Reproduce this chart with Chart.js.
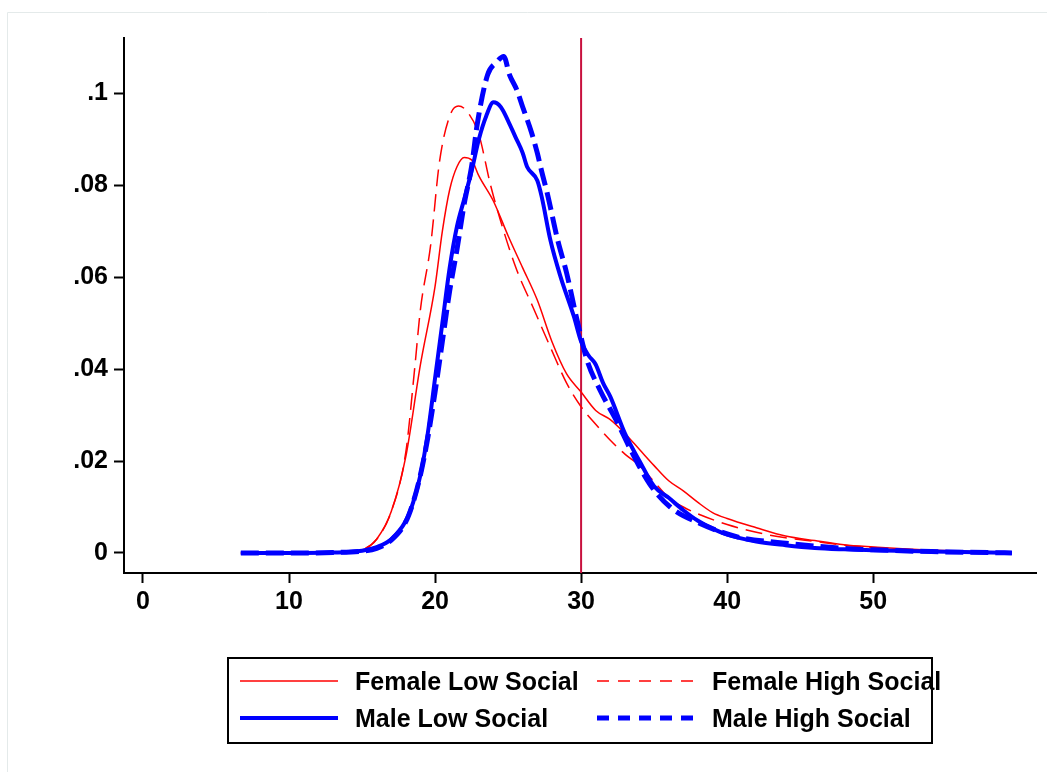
<!DOCTYPE html>
<html>
<head>
<meta charset="utf-8">
<script src="https://cdn.jsdelivr.net/npm/chart.js@4"></script>
<style>
  html, body { margin: 0; padding: 0; background: #fff; }
  #wrap { position: relative; width: 1047px; height: 772px; }
</style>
</head>
<body>
<div id="wrap"><canvas id="chart" width="1047" height="772"></canvas></div>
<script>
// tick values and labels
const xTicks = [0, 10, 20, 30, 40, 50];
const xTickLabels = ["0", "10", "20", "30", "40", "50"];
const yTicks = [0, 0.02, 0.04, 0.06, 0.08, 0.1];
const yTickLabels = ["0", ".02", ".04", ".06", ".08", ".1"];
const cutoff = 30;

const seriesNames = ["Female Low Social", "Female High Social", "Male Low Social", "Male High Social"];

// Female Low Social (red solid)
const femaleLowX = [6.7, 10, 14, 15, 16, 17, 18, 19, 20, 20.5, 21, 21.5, 22, 22.5, 23, 24, 25, 26, 27, 28, 29, 30, 31, 32, 33, 34, 35, 36, 37, 38, 39, 40, 42, 44, 46, 48, 50, 52, 54, 56, 58, 59.5];
const femaleLowY = [0, 0, 0.0002, 0.0006, 0.003, 0.009, 0.021, 0.041, 0.058, 0.07, 0.079, 0.084, 0.086, 0.0855, 0.082, 0.0765, 0.069, 0.062, 0.055, 0.046, 0.039, 0.035, 0.031, 0.029, 0.026, 0.0225, 0.019, 0.0157, 0.0135, 0.011, 0.0088, 0.0075, 0.0055, 0.0037, 0.0027, 0.0018, 0.0013, 0.0009, 0.0006, 0.0004, 0.0002, 0];

// Female High Social (red dashed)
const femaleHighX = [6.7, 10, 14, 15, 16, 17, 18, 18.6, 19, 19.7, 20.3, 21, 21.6, 22.2, 23, 23.8, 24.7, 25.6, 26.7, 28, 29, 30, 31, 32, 33, 34, 35, 36, 37, 38, 40, 42, 44, 46, 48, 50, 52, 54, 56, 58, 59.5];
const femaleHighY = [0, 0, 0.0002, 0.0007, 0.003, 0.009, 0.022, 0.04, 0.053, 0.067, 0.085, 0.095, 0.0972, 0.096, 0.091, 0.08, 0.07, 0.0615, 0.0535, 0.044, 0.037, 0.0318, 0.028, 0.0245, 0.0215, 0.019, 0.0155, 0.012, 0.01, 0.0085, 0.0062, 0.0045, 0.0033, 0.0025, 0.0017, 0.0012, 0.0008, 0.0005, 0.0003, 0.0001, 0];

// Male Low Social (blue solid)
const maleLowX = [6.7, 10, 13, 15, 16, 17, 18, 18.5, 19, 19.5, 20, 20.5, 21, 21.5, 22, 22.5, 23, 23.5, 24, 24.5, 25, 25.5, 26, 26.3, 27, 27.3, 27.9, 28.6, 29.5, 30, 30.5, 31, 31.5, 32, 33, 34, 35, 36, 37, 38, 39, 40, 42, 44, 46, 48, 50, 54, 58, 59.5];
const maleLowY = [0, 0, 0.0001, 0.0005, 0.0013, 0.003, 0.007, 0.011, 0.017, 0.026, 0.038, 0.05, 0.062, 0.071, 0.077, 0.083, 0.09, 0.095, 0.098, 0.097, 0.094, 0.0905, 0.087, 0.084, 0.081, 0.0775, 0.068, 0.06, 0.0515, 0.046, 0.043, 0.041, 0.037, 0.034, 0.026, 0.02, 0.0145, 0.012, 0.0093, 0.007, 0.0053, 0.004, 0.0025, 0.0017, 0.0011, 0.0008, 0.0006, 0.0003, 0.0001, 0];

// Male High Social (blue dashed)
const maleHighX = [6.7, 10, 13, 15, 16, 17, 18, 18.5, 19, 19.5, 20, 20.5, 21, 21.5, 22, 22.5, 22.9, 23.6, 24.2, 24.7, 25.1, 25.6, 26, 26.6, 27, 27.3, 27.7, 28.4, 29, 29.7, 30.4, 31.3, 32.5, 33.4, 34.7, 36.1, 38.1, 40.7, 43.8, 46, 48, 50, 54, 58, 59.5];
const maleHighY = [0, 0, 0.0001, 0.0004, 0.001, 0.0028, 0.0068, 0.011, 0.017, 0.025, 0.035, 0.046, 0.057, 0.066, 0.076, 0.084, 0.0935, 0.104, 0.1067, 0.108, 0.104, 0.1007, 0.097, 0.0915, 0.087, 0.083, 0.078, 0.068, 0.061, 0.051, 0.042, 0.0354, 0.0283, 0.0224, 0.015, 0.01, 0.0065, 0.0035, 0.0022, 0.0015, 0.001, 0.0007, 0.0003, 0.0001, 0];

const xMin = -1.3, xMax = 61.15;
const yMin = -0.00435, yMax = 0.112;

function pts(xs, ys) {
  return xs.map((x, i) => ({ x: x, y: ys[i] }));
}

const fontFamily = '"Liberation Sans", Arial, Helvetica, sans-serif';

// faint page frame
const frame = {
  id: 'frame',
  beforeDraw(chart) {
    const ctx = chart.ctx;
    ctx.save();
    ctx.fillStyle = '#fff';
    ctx.fillRect(0, 0, chart.width, chart.height);
    ctx.strokeStyle = '#e4eaea';
    ctx.lineWidth = 1;
    ctx.beginPath();
    ctx.moveTo(7.5, chart.height);
    ctx.lineTo(7.5, 12.5);
    ctx.lineTo(chart.width, 12.5);
    ctx.stroke();
    ctx.restore();
  }
};

// boxed legend under the plot, two columns
const legendBox = {
  id: 'legendBox',
  afterDraw(chart) {
    const ctx = chart.ctx;
    ctx.save();
    ctx.strokeStyle = '#000';
    ctx.lineWidth = 2;
    ctx.strokeRect(228, 658, 704, 85);
    const items = chart.data.datasets.filter(d => d.label);
    items.forEach((d, i) => {
      const col = i % 2, row = Math.floor(i / 2);
      const x0 = col ? 597 : 240;
      const y = row ? 718 : 681;
      ctx.beginPath();
      ctx.setLineDash(d.legendDash || []);
      ctx.strokeStyle = d.borderColor;
      ctx.lineWidth = d.borderWidth;
      ctx.moveTo(x0, y);
      ctx.lineTo(x0 + 98, y);
      ctx.stroke();
      ctx.setLineDash([]);
      ctx.fillStyle = '#000';
      ctx.font = 'bold 25px ' + fontFamily;
      ctx.textBaseline = 'middle';
      ctx.fillText(d.label, x0 + 115, y + 2);
    });
    ctx.restore();
  }
};

new Chart(document.getElementById('chart'), {
  type: 'line',
  data: {
    datasets: [
      {
        label: seriesNames[0],
        data: pts(femaleLowX, femaleLowY),
        borderColor: '#ff0000',
        borderWidth: 1.5,
        order: 5
      },
      {
        label: seriesNames[1],
        data: pts(femaleHighX, femaleHighY),
        borderColor: '#ff0000',
        borderWidth: 1.5,
        borderDash: [17, 8],
        legendDash: [12, 9],
        order: 4
      },
      {
        label: seriesNames[2],
        data: pts(maleLowX, maleLowY),
        borderColor: '#0000ff',
        borderWidth: 4,
        order: 3
      },
      {
        label: seriesNames[3],
        data: pts(maleHighX, maleHighY),
        borderColor: '#0000ff',
        borderWidth: 5,
        borderDash: [18, 7],
        legendDash: [12, 9],
        order: 2
      },
      {
        data: [{ x: cutoff, y: yMin }, { x: cutoff, y: yMax }],
        borderColor: '#c8103e',
        borderWidth: 2,
        order: 6
      }
    ]
  },
  options: {
    responsive: false,
    animation: false,
    elements: {
      point: { radius: 0 },
      line: { cubicInterpolationMode: 'monotone', fill: false }
    },
    layout: { padding: { top: 38, right: 11, bottom: 139, left: 0 } },
    plugins: {
      legend: { display: false },
      tooltip: { enabled: false }
    },
    scales: {
      x: {
        type: 'linear',
        min: xMin,
        max: xMax,
        afterBuildTicks: s => { s.ticks = xTicks.map(v => ({ value: v })); },
        afterFit: s => { s.height = 60; },
        ticks: {
          color: '#000',
          padding: 4,
          maxRotation: 0,
          font: { family: fontFamily, size: 25, weight: 'bold' },
          callback: (v, i) => xTickLabels[i]
        },
        grid: { drawOnChartArea: false, drawTicks: true, tickLength: 10, tickColor: '#000', tickWidth: 2 },
        border: { display: true, color: '#000', width: 2 }
      },
      y: {
        type: 'linear',
        min: yMin,
        max: yMax,
        afterBuildTicks: s => { s.ticks = yTicks.map(v => ({ value: v })); },
        afterFit: s => { s.width = 124; },
        ticks: {
          color: '#000',
          padding: 6,
          font: { family: fontFamily, size: 25, weight: 'bold' },
          callback: (v, i) => yTickLabels[i]
        },
        grid: { drawOnChartArea: false, drawTicks: true, tickLength: 10, tickColor: '#000', tickWidth: 2 },
        border: { display: true, color: '#000', width: 2 }
      }
    }
  },
  plugins: [frame, legendBox]
});
</script>
</body>
</html>
